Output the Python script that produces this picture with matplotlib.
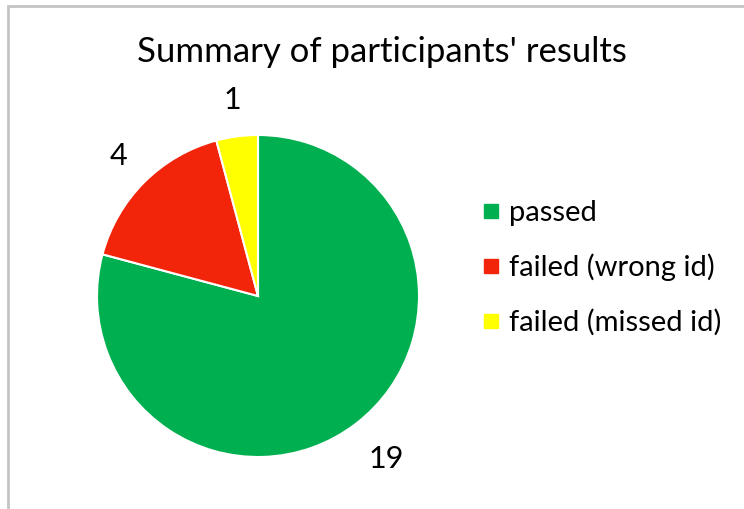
import matplotlib
matplotlib.use("Agg")
import matplotlib.pyplot as plt
from matplotlib.patches import Rectangle
from matplotlib.lines import Line2D

categories = ["passed", "failed (wrong id)", "failed (missed id)"]
values = [19, 4, 1]
colors = ["#00B050", "#F2250B", "#FFFF00"]
title = "Summary of participants' results"

plt.rcParams['font.family'] = ['Lato', 'DejaVu Sans']

W, H = 744, 509
fig = plt.figure(figsize=(W / 100, H / 100), dpi=100)

# border (top and left visible)
fig.patches.append(Rectangle((7.5 / W, -0.1), 1.2, 1.1 - 6.5 / H,
                             transform=fig.transFigure, fill=False,
                             edgecolor="#c4c4c4", linewidth=2.0))

cx, cy, r = 258, 296, 161
ax = fig.add_axes([(cx - r) / W, (H - cy - r) / H, 2 * r / W, 2 * r / H])
wedges, texts = ax.pie(values, colors=colors, startangle=90, counterclock=False,
                       labels=[str(v) for v in values], labeldistance=1.23,
                       wedgeprops=dict(edgecolor="white", linewidth=1.5),
                       textprops=dict(fontsize=22, color="black"))
for t in texts:
    t.set_ha("center")
    t.set_va("center")
# nudge the large-slice label slightly outward like the reference
x, y = texts[0].get_position()
texts[0].set_position((x * 1.06, y * 1.04))
ax.set_xlim(-1, 1)
ax.set_ylim(-1, 1)
ax.set_aspect("equal")
ax.axis("off")

fig.text(382 / W, 1 - 52 / H, title, ha="center", va="center", fontsize=25)

handles = [Line2D([0], [0], marker="s", linestyle="none", markersize=10.5,
                  markerfacecolor=c, markeredgecolor=c) for c in colors]
fig.legend(handles, categories, loc="center left",
           bbox_to_anchor=(462 / W, 1 - 268 / H), frameon=False,
           fontsize=21, labelspacing=0.95, handletextpad=0.1,
           handlelength=1.0, borderpad=0.0)

fig.savefig("out.png", dpi=100)
